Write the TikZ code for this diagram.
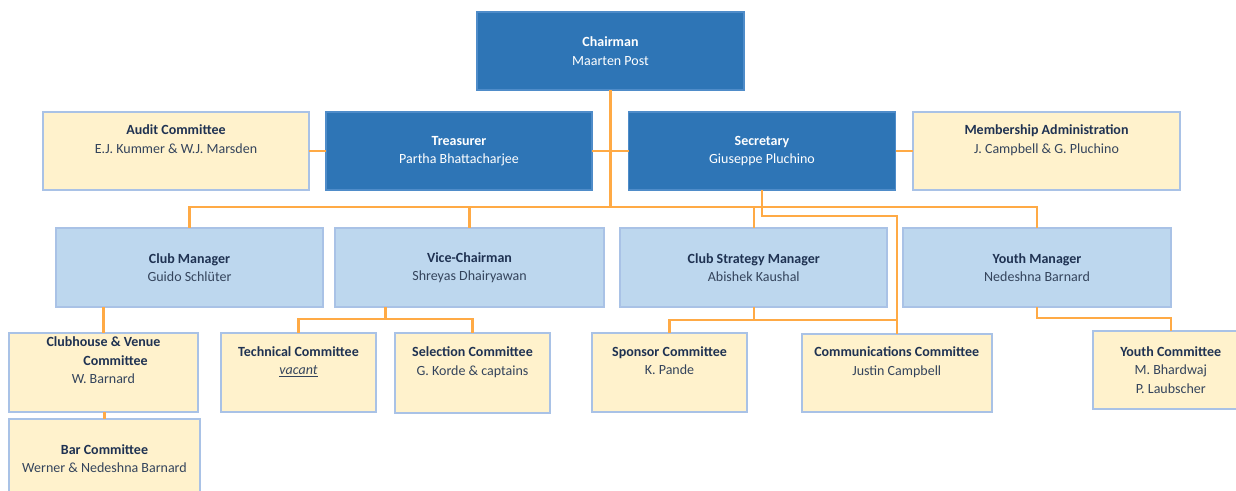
\documentclass[tikz,border=0pt]{standalone}
\usepackage{fontspec}
\setmainfont{Carlito}
\usetikzlibrary{calc}
\definecolor{darkblue}{HTML}{2E75B6}
\definecolor{darkedge}{HTML}{4F8CC9}
\definecolor{lightblue}{HTML}{BDD7EE}
\definecolor{lightedge}{HTML}{A9C2E6}
\definecolor{paleyellow}{HTML}{FFF2CC}
\definecolor{orangeline}{HTML}{FFAA45}
\definecolor{titlecol}{HTML}{1F3252}
\definecolor{namecol}{HTML}{34445C}
\newcommand{\ttl}[1]{\textbf{#1}}
\begin{document}
\begin{tikzpicture}[x=0.75pt,y=-0.75pt,
  boxsize/.style 2 args={minimum width=#1*0.75pt, minimum height=#2*0.75pt},
  base/.style={rectangle, inner sep=0pt, outer sep=0pt, align=center,
    font=\fontsize{10.5}{13.9}\selectfont},
  dark/.style={base, fill=darkblue, draw=darkedge, line width=0.8pt, text=white},
  mid/.style={base, fill=lightblue, draw=lightedge, line width=1.4pt, text=namecol},
  pale/.style={base, fill=paleyellow, draw=lightedge, line width=1.4pt, text=namecol},
  conn/.style={draw=orangeline, line width=1.7pt}]
\clip (0,0) rectangle (1236,491);
\fill[white] (0,0) rectangle (1236,491);

% connectors are drawn first (behind boxes)
% nodes
\node[dark, boxsize={267}{78}] (chair) at (610.5,51) {\ttl{Chairman}\\Maarten Post};
\node[pale, boxsize={266}{78}] (audit) at (176,151) {\textcolor{titlecol}{\ttl{Audit Committee}}\\E.J. Kummer \& W.J. Marsden\\\strut};
\node[dark, boxsize={266}{78}] (treas) at (459,151) {\ttl{Treasurer}\\Partha Bhattacharjee};
\node[dark, boxsize={267}{78}] (sec) at (762,151) {\ttl{Secretary}\\Giuseppe Pluchino};
\node[pale, boxsize={267}{78}] (memb) at (1046.5,151) {\textcolor{titlecol}{\ttl{Membership Administration}}\\J. Campbell \& G. Pluchino\\\strut};

\node[mid, boxsize={267}{79}] (clubmgr) at (189.5,267.5) {\textcolor{titlecol}{\ttl{Club Manager}}\\Guido Schlüter};
\node[mid, boxsize={269}{79}] (vice) at (469.5,267.5) {\textcolor{titlecol}{\ttl{Vice-Chairman}}\\Shreyas Dhairyawan};
\node[mid, boxsize={267}{79}] (strat) at (753.75,267.5) {\textcolor{titlecol}{\ttl{Club Strategy Manager}}\\Abishek Kaushal};
\node[mid, boxsize={268}{79}] (youthm) at (1037,267.5) {\textcolor{titlecol}{\ttl{Youth Manager}}\\Nedeshna Barnard};

\node[pale, boxsize={189}{79}] (clubh) at (103.5,372.5) {\textcolor{titlecol}{\ttl{Clubhouse \& Venue}}\\\hspace*{18pt}\textcolor{titlecol}{\ttl{Committee}}\\W. Barnard\\\strut};
\node[pale, boxsize={191}{79}] (bar) at (104.5,458.5) {\textcolor{titlecol}{\ttl{Bar Committee}}\\Werner \& Nedeshna Barnard};
\node[pale, boxsize={155}{79}] (tech) at (298.5,372.5) {\textcolor{titlecol}{\ttl{Technical Committee}}\\\underline{\textit{vacant}}\\\strut};
\node[pale, boxsize={155}{80}] (sel) at (472.5,373) {\textcolor{titlecol}{\ttl{Selection Committee}}\\G. Korde \& captains\\\strut};
\node[pale, boxsize={155}{79}] (spons) at (669.5,372.5) {\textcolor{titlecol}{\ttl{Sponsor Committee}}\\K. Pande\\\strut};
\node[pale, boxsize={190}{78}] (comm) at (896.75,373) {\textcolor{titlecol}{\ttl{Communications Committee}}\\Justin Campbell\\\strut};
\node[pale, boxsize={155}{78}] (youthc) at (1170.75,370) {\textcolor{titlecol}{\ttl{Youth Committee}}\\M. Bhardwaj\\P. Laubscher};

% connectors
\coordinate (bus) at (0,207);
\draw[conn] (chair.south) -- (chair.south |- bus);
\draw[conn] (clubmgr.north) -- (clubmgr.north |- bus) -- (youthm.north |- bus) -- (youthm.north);
\draw[conn] (vice.north) -- (vice.north |- bus);
\draw[conn] (strat.north) -- (strat.north |- bus);
\draw[conn] (treas.east) -- (sec.west);
\draw[conn] (audit.east) -- (treas.west);
\draw[conn] (sec.east) -- (memb.west);
\draw[conn] (sec.south) -- ++(0,26) -| (comm.north);
\draw[conn] (strat.south) -- ++(0,13) coordinate (sj);
\draw[conn] (spons.north) |- (sj) -| (comm.north);
\coordinate (vj) at ($(tech.north)!0.5!(sel.north)+(0,-14)$);
\draw[conn] (vj |- vice.south) -- (vj);
\draw[conn] (tech.north) |- (vj) -| (sel.north);
\draw[conn] (clubh.north) -- (clubh.north |- clubmgr.south);
\draw[conn] (bar.north) -- (bar.north |- clubh.south);
\draw[conn] (youthm.south) -- ++(0,11) -| (youthc.north);
\end{tikzpicture}
\end{document}
